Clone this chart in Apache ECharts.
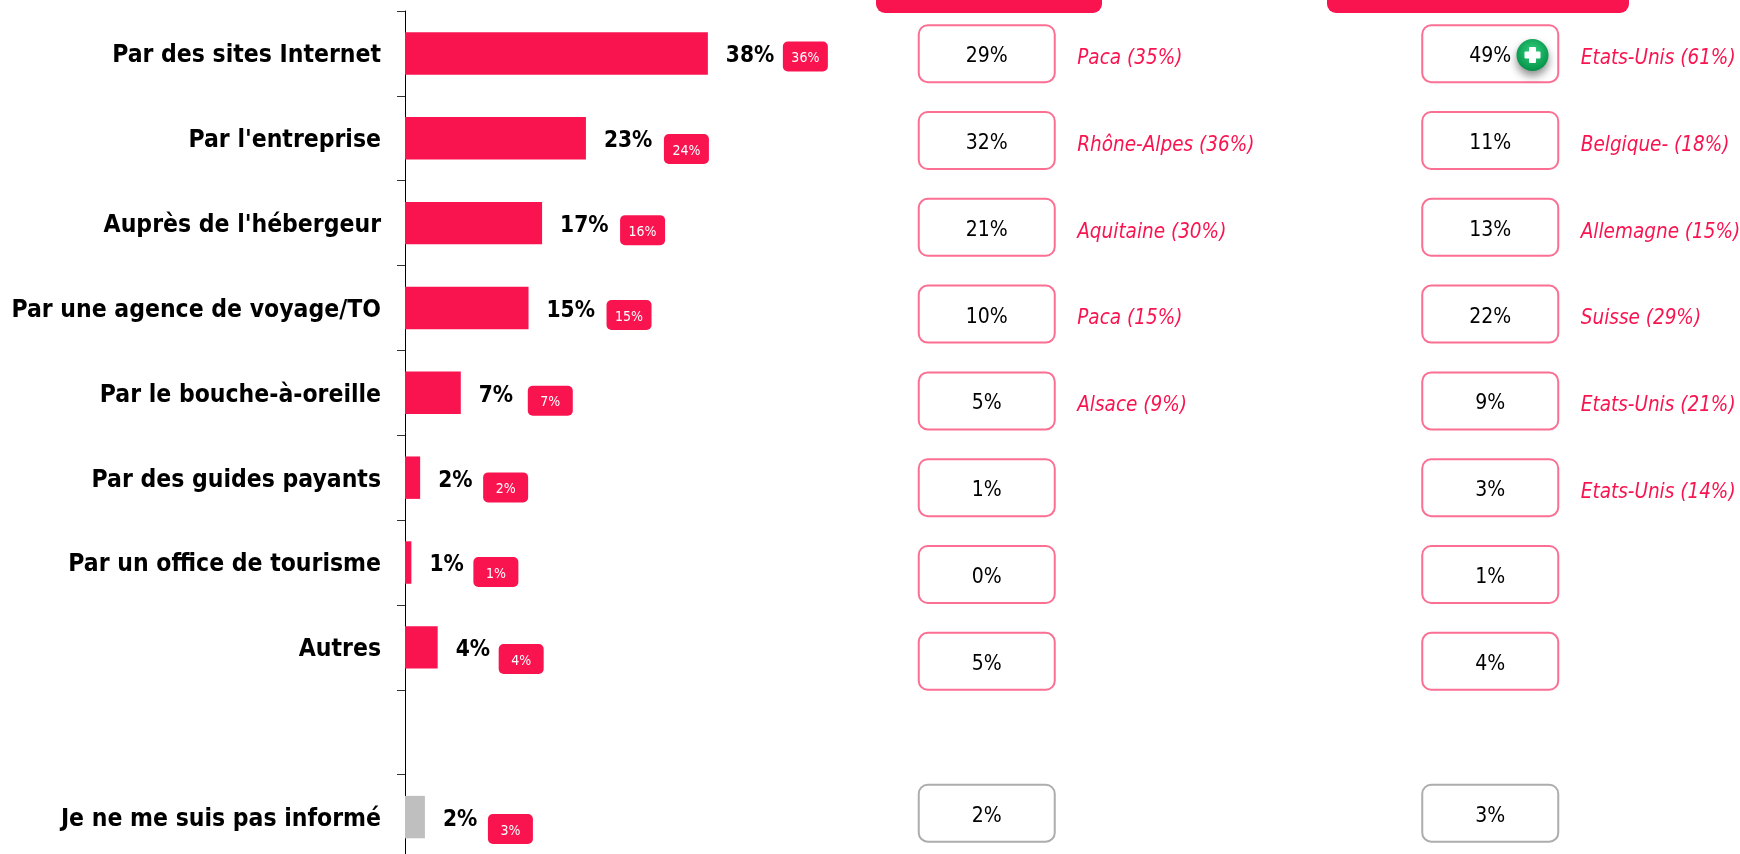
<!DOCTYPE html>
<html lang="fr">
<head>
    <meta charset="UTF-8">
    <title>Sources d'information</title>
    <script src="https://cdn.jsdelivr.net/npm/echarts@6/dist/echarts.min.js"></script>
    <style>
        html, body { margin: 0; padding: 0; background: #fff; overflow: hidden; }
        #main { width: 1740px; height: 854px; }
    </style>
</head>
<body>
<div id="main"></div>
<script type="text/javascript">
    // donnees
    var categories = ['Par des sites Internet', "Par l'entreprise", "Auprès de l'hébergeur", 'Par une agence de voyage/TO',
        'Par le bouche-à-oreille', 'Par des guides payants', 'Par un office de tourisme', 'Autres', '', 'Je ne me suis pas informé'];
    var barValues = [38, 22.7, 17.2, 15.5, 7, 1.9, 0.8, 4.1, null, 2.5];
    var barLabels = [38, 23, 17, 15, 7, 2, 1, 4, null, 2];
    var badgeValues = [36, 24, 16, 15, 7, 2, 1, 4, null, 3];
    var columns = ['A', 'B'];
    var columnA = [29, 32, 21, 10, 5, 1, 0, 5, 2];
    var columnB = [49, 11, 13, 22, 9, 3, 1, 4, 3];
    var notesA = ['Paca (35%)', 'Rhône-Alpes (36%)', 'Aquitaine (30%)', 'Paca (15%)', 'Alsace (9%)', '', '', '', ''];
    var notesB = ['Etats-Unis (61%)', 'Belgique- (18%)', 'Allemagne (15%)', 'Suisse (29%)', 'Etats-Unis (21%)', 'Etats-Unis (14%)', '', '', ''];
    var rowPositions = [0, 1, 2, 3, 4, 5, 6, 7, 8.75];

    // decalages des pastilles par rapport au bout de la barre
    var badgeGap = [75, 78, 78, 78, 67, 63, 62, 61, 0, 63];
    var badgeDy = [3, 10.7, 7, 7, 8, 9.7, 9.5, 11.7, 0, 12];

    var RED = '#F91450';
    var GREY = '#BFBFBF';
    var FONT = '"DejaVu Sans Condensed", "DejaVu Sans", sans-serif';

    var barData = barValues.map(function (v, i) {
        return { value: v, itemStyle: { color: i === 9 ? GREY : RED } };
    });

    var badgeData = [];
    badgeValues.forEach(function (v, i) {
        if (v !== null) badgeData.push([barValues[i], i, v]);
    });

    var cellData = [];
    rowPositions.forEach(function (r, i) {
        cellData.push([0, r, columnA[i], notesA[i], i]);
        cellData.push([1, r, columnB[i], notesB[i], i]);
    });

    function renderBadge(params, api) {
        var i = api.value(1);
        var p = api.coord([api.value(0), i]);
        return {
            type: 'group',
            children: [{
                type: 'rect',
                shape: { x: p[0] + badgeGap[i], y: p[1] + badgeDy[i] - 15, width: 45, height: 30, r: 5 },
                style: { fill: RED }
            }, {
                type: 'text',
                style: {
                    x: p[0] + badgeGap[i] + 22.5, y: p[1] + badgeDy[i] + 2,
                    text: api.value(2) + '%', fill: '#fff', font: '14px ' + FONT,
                    align: 'center', verticalAlign: 'middle'
                }
            }]
        };
    }

    function renderCell(params, api) {
        var p = api.coord([api.value(0), api.value(1)]);
        var item = cellData[params.dataIndex];
        var last = item[4] === 8;
        var children = [{
            type: 'rect',
            shape: { x: p[0] - 68, y: p[1] - 28.5, width: 136, height: 57, r: 9 },
            style: { fill: '#fff', stroke: last ? '#ADADAD' : '#FB6F92', lineWidth: 2 }
        }, {
            type: 'text',
            style: {
                x: p[0], y: p[1] + 3,
                text: item[2] + '%', fill: '#000', font: '21px ' + FONT,
                align: 'center', verticalAlign: 'middle'
            }
        }];
        if (item[3]) {
            children.push({
                type: 'text',
                style: {
                    x: p[0] + 90.5, y: p[1] + 5,
                    text: item[3], fill: RED, font: 'italic 20.5px ' + FONT,
                    align: 'left', verticalAlign: 'middle'
                }
            });
        }
        return { type: 'group', children: children };
    }

    var myChart = echarts.init(document.getElementById('main'));

    var option = {
        animation: false,
        backgroundColor: '#fff',
        grid: [
            { left: 405, top: 11, width: 797, height: 848.5, outerBoundsMode: 'none' },
            { left: 735, top: 10.3, width: 1007, height: 846.3, outerBoundsMode: 'none' }
        ],
        xAxis: [
            { type: 'value', gridIndex: 0, min: 0, max: 100, show: false },
            { type: 'category', gridIndex: 1, data: columns, show: false }
        ],
        yAxis: [
            {
                type: 'category', gridIndex: 0, inverse: true, data: categories,
                axisLine: { lineStyle: { color: '#000', width: 1 } },
                axisTick: { show: true, length: 8, lineStyle: { color: '#333' } },
                axisLabel: {
                    interval: 0, margin: 24,
                    formatter: function (v) { return v ? '{t|' + v + '}' : ''; },
                    rich: {
                        t: { color: '#000', fontSize: 24.5, fontWeight: 'bold', fontFamily: FONT, padding: [5, 0, 0, 0] }
                    }
                },
                splitLine: { show: false }
            },
            { type: 'value', gridIndex: 1, inverse: true, min: -0.5, max: 9.25, show: false }
        ],
        graphic: [
            { type: 'rect', shape: { x: 876, y: -10, width: 226, height: 23, r: 9 }, style: { fill: RED } },
            { type: 'rect', shape: { x: 1327, y: -10, width: 302, height: 23, r: 9 }, style: { fill: RED } },
            {
                type: 'circle', z: 20, shape: { cx: 1532.5, cy: 55, r: 16 },
                style: {
                    fill: new echarts.graphic.RadialGradient(0.5, 0.4, 0.6, [
                        { offset: 0, color: '#35D07F' }, { offset: 1, color: '#039247' }
                    ]),
                    shadowColor: 'rgba(0,0,0,0.45)', shadowBlur: 8, shadowOffsetY: 5
                }
            },
            { type: 'rect', z: 21, shape: { x: 1529, y: 47, width: 7, height: 16, r: 1 }, style: { fill: '#fff' } },
            { type: 'rect', z: 21, shape: { x: 1524.5, y: 51.5, width: 16, height: 7, r: 1 }, style: { fill: '#fff' } }
        ],
        series: [
            {
                type: 'bar', xAxisIndex: 0, yAxisIndex: 0, barWidth: '50%', data: barData,
                label: {
                    show: true, position: 'right', distance: 18, color: '#000', offset: [0, 3],
                    fontSize: 22.5, fontWeight: 'bold', fontFamily: FONT,
                    formatter: function (p) { return barLabels[p.dataIndex] + '%'; }
                }
            },
            { type: 'custom', xAxisIndex: 0, yAxisIndex: 0, data: badgeData, renderItem: renderBadge, clip: false },
            { type: 'custom', xAxisIndex: 1, yAxisIndex: 1, data: cellData, renderItem: renderCell, clip: false }
        ]
    };

    myChart.setOption(option);
</script>
</body>
</html>
